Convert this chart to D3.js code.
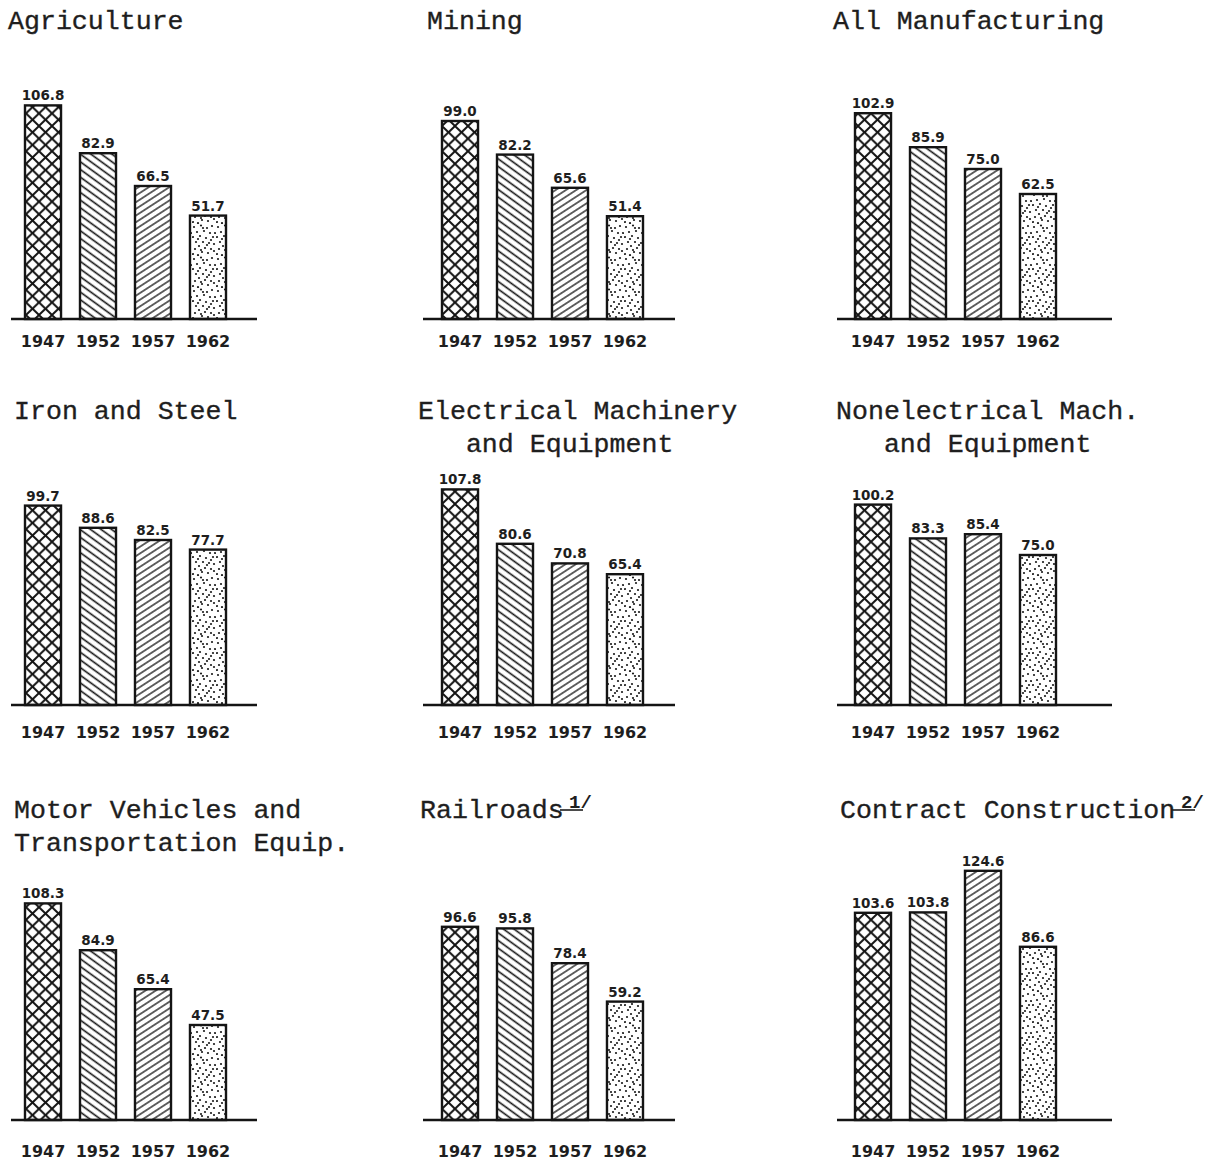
<!DOCTYPE html>
<html>
<head>
<meta charset="utf-8">
<script src="https://cdn.jsdelivr.net/npm/d3@7"></script>
<style>
  html, body { margin: 0; padding: 0; background: #fff; }
  svg { display: block; }
  .title { font-family: "Liberation Mono", "Courier New", monospace; font-size: 26.6px; fill: #1e1e1e; stroke: #1e1e1e; stroke-width: 0.35px; white-space: pre; }
  .foot { font-family: "Liberation Mono", monospace; font-size: 19px; font-weight: bold; fill: #1e1e1e; }
  .val { font-family: "DejaVu Sans", sans-serif; font-size: 13.5px; font-weight: bold; fill: #1e1e1e; }
  .yr text { font-family: "DejaVu Sans", sans-serif; font-size: 16px; font-weight: bold; fill: #1e1e1e; }
</style>
</head>
<body>
<svg id="chart" width="1222" height="1161"></svg>
<script>
// ---------------- data ----------------
const years = ["1947", "1952", "1957", "1962"];

const titles = [
  ["Agriculture"],
  ["Mining"],
  ["All Manufacturing"],
  ["Iron and Steel"],
  ["Electrical Machinery", "   and Equipment"],
  ["Nonelectrical Mach.", "   and Equipment"],
  ["Motor Vehicles and", "Transportation Equip."],
  ["Railroads"],
  ["Contract Construction"]
];
const footnotes = ["", "", "", "", "", "", "", "1/", "2/"];

const agriculture      = [106.8, 82.9, 66.5, 51.7];
const mining           = [99.0, 82.2, 65.6, 51.4];
const allManufacturing = [102.9, 85.9, 75.0, 62.5];
const ironSteel        = [99.7, 88.6, 82.5, 77.7];
const electricalMach   = [107.8, 80.6, 70.8, 65.4];
const nonelectricalMach= [100.2, 83.3, 85.4, 75.0];
const motorVehicles    = [108.3, 84.9, 65.4, 47.5];
const railroads        = [96.6, 95.8, 78.4, 59.2];
const construction     = [103.6, 103.8, 124.6, 86.6];

const seriesValues = [agriculture, mining, allManufacturing, ironSteel, electricalMach,
                      nonelectricalMach, motorVehicles, railroads, construction];

// ---------------- layout ----------------
const colLeft = [25, 442, 855];
const rowBase = [319, 705, 1120];
const rowYearOffset = [28, 33, 37];
const rowTitleY = [29, 419, 818];
const titleX = [8, 427, 833, 14, 418, 836, 14, 420, 840];
const axisExt = [[-14, 232], [-19, 233], [-18, 257]];
const lineGap = 33;
const charW = 16;

const svg = d3.select("#chart");
const defs = svg.append("defs");

// cross-hatch (diamond lattice)
const px = defs.append("pattern").attr("id", "p0").attr("patternUnits", "userSpaceOnUse")
  .attr("width", 13).attr("height", 12.6);
px.append("path").attr("d", "M0,0L13,12.6M13,0L0,12.6M-1,-1L1,1")
  .attr("stroke", "#141414").attr("stroke-width", 2).attr("fill", "none");

// back diagonal
const pb = defs.append("pattern").attr("id", "p1").attr("patternUnits", "userSpaceOnUse")
  .attr("width", 12).attr("height", 6.2).attr("patternTransform", "rotate(36)");
pb.append("line").attr("x1", 0).attr("x2", 12).attr("y1", 3.1).attr("y2", 3.1)
  .attr("stroke", "#141414").attr("stroke-width", 1.6);

// forward diagonal
const pf = defs.append("pattern").attr("id", "p2").attr("patternUnits", "userSpaceOnUse")
  .attr("width", 12).attr("height", 5.6).attr("patternTransform", "rotate(-33)");
pf.append("line").attr("x1", 0).attr("x2", 12).attr("y1", 2.8).attr("y2", 2.8)
  .attr("stroke", "#141414").attr("stroke-width", 1.3);

// stipple
const stippleDots = [[2,3],[9,1.5],[15,4],[20,2],[5,8],[12,7],[18,9],[1,13],[8,12],[14,14],[21,13],
  [4,18],[11,18],[17,19],[22,20],[7,22],[3,25],[13,24],[19,25],[10,28],[16,29],[1,30],[22,27],[6,31],
  [11,4],[6,15],[19,16],[15,21],[9,26],[23,9]];
const ps = defs.append("pattern").attr("id", "p3").attr("patternUnits", "userSpaceOnUse")
  .attr("width", 24).attr("height", 32);
ps.selectAll("circle").data(stippleDots).join("circle")
  .attr("cx", d => d[0]).attr("cy", d => d[1]).attr("r", 1.1).attr("fill", "#1a1a1a");

const fmt = d3.format(".1f");

seriesValues.forEach((vals, i) => {
  const row = Math.floor(i / 3), col = i % 3;
  const left = colLeft[col], base = rowBase[row];
  const g = svg.append("g");

  const x = d3.scaleBand().domain(years).range([left, left + 201]).paddingInner(0.345).paddingOuter(0);
  const y = d3.scaleLinear().domain([0, 130]).range([base, base - 260]);

  // title
  const t = g.append("text").attr("class", "title");
  titles[i].forEach((line, k) => {
    t.append("tspan").attr("x", titleX[i]).attr("y", rowTitleY[row] + k * lineGap).text(line);
  });
  if (footnotes[i]) {
    const endX = titleX[i] + titles[i][0].length * charW;
    g.append("text").attr("class", "foot").attr("x", endX + 5).attr("y", rowTitleY[row] - 10).text(footnotes[i]);
    g.append("line").attr("x1", endX - 4).attr("x2", endX + 19)
      .attr("y1", rowTitleY[row] - 8).attr("y2", rowTitleY[row] - 8)
      .attr("stroke", "#1e1e1e").attr("stroke-width", 1.6);
  }

  // bars
  g.selectAll("rect.bar").data(vals).join("rect").attr("class", "bar")
    .attr("x", (d, j) => x(years[j]))
    .attr("y", d => y(d))
    .attr("width", x.bandwidth())
    .attr("height", d => y(0) - y(d))
    .attr("fill", (d, j) => `url(#p${j})`)
    .attr("stroke", "#141414").attr("stroke-width", 2.4);

  // value labels
  g.selectAll("text.val").data(vals).join("text").attr("class", "val")
    .attr("x", (d, j) => x(years[j]) + x.bandwidth() / 2)
    .attr("y", d => y(d) - 5)
    .attr("text-anchor", "middle")
    .text(d => fmt(d));

  // baseline
  g.append("line").attr("x1", left + axisExt[col][0]).attr("x2", left + axisExt[col][1])
    .attr("y1", base).attr("y2", base).attr("stroke", "#141414").attr("stroke-width", 2.6);

  // year labels
  g.append("g").attr("class", "yr").attr("transform", `translate(0,${base})`)
    .call(d3.axisBottom(x).tickSize(0).tickPadding(rowYearOffset[row] - 11.5))
    .call(a => a.select(".domain").remove())
    .call(a => a.selectAll("text").attr("fill", "#1e1e1e"));
});
</script>
</body>
</html>
